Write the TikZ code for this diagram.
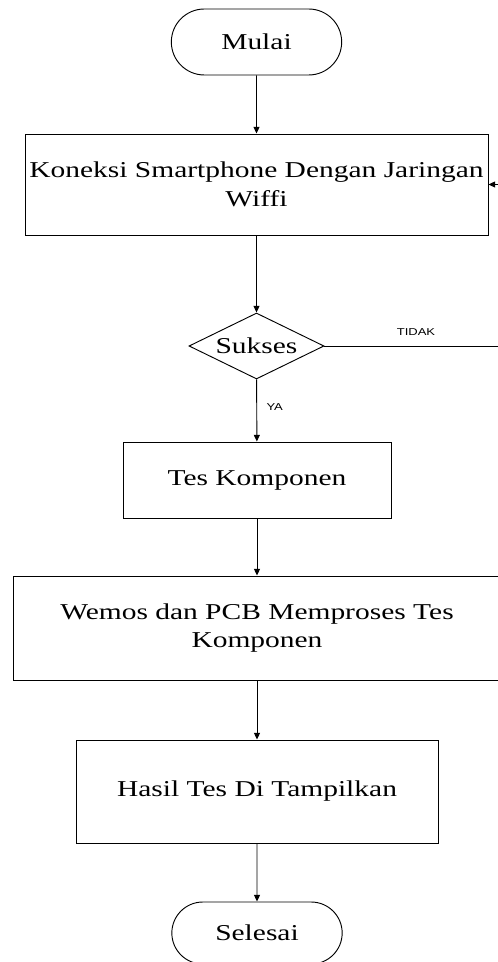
\documentclass[tikz,border=0pt]{standalone}
\usepackage{fontspec}
\setmainfont[FakeStretch=1.3]{Liberation Serif}
\newfontfamily\labelfont[FakeStretch=1.3]{Liberation Sans}
\usepackage{tikz}
\usetikzlibrary{shapes.geometric, shapes.misc, arrows.meta}
\tikzstyle{terminal} = [rounded rectangle, minimum width=129.75pt, minimum height=49.5pt, inner sep=1pt, text centered, draw=black, fill=white]
\tikzstyle{process}  = [rectangle, inner sep=2pt, align=center, draw=black, fill=white]
\tikzstyle{decision} = [diamond, aspect=2, minimum width=101.25pt, minimum height=49.5pt, inner sep=0pt, text centered, draw=black, fill=white]
\tikzstyle{keterangan} = [font=\labelfont\fontsize{7.5}{9}\selectfont, inner sep=0pt]
\tikzstyle{arrow}    = [->, >={Triangle[width=4.5pt,length=5pt]}]

\begin{document}
\begin{tikzpicture}[x=0.75pt, y=-0.75pt, line width=0.7pt, font=\fontsize{17}{21.5}\selectfont]
            \useasboundingbox (0,0) rectangle (498,962);
            % 1. Mulai (terminal awal)
            \node (mulai) [terminal] at (256.5,42) {Mulai};
            % 2. Koneksi ke jaringan
            \node (koneksi) [process, minimum width=347.25pt, minimum height=75.75pt] at (256.5,184.5) {Koneksi Smartphone Dengan Jaringan\\Wiffi};
            % 3. Cek sukses (keputusan)
            \node (sukses) [decision] at (256.5,346) {Sukses};
            % 4. Tes komponen
            \node (tes) [process, minimum width=201pt, minimum height=57pt] at (257,480) {Tes Komponen};
            % 5. Proses oleh Wemos dan PCB
            \node (wemos) [process, minimum width=366pt, minimum height=78pt] at (257,628) {Wemos dan PCB Memproses Tes\\Komponen};
            % 6. Tampilkan hasil
            \node (hasil) [process, minimum width=271.5pt, minimum height=77.25pt] at (257,791.5) {Hasil Tes Di Tampilkan};
            % 7. Selesai (terminal akhir)
            \node (selesai) [terminal, minimum height=46.5pt] at (257,933) {Selesai};
            % titik balik di tepi kanan
            \coordinate (balik) at (503,346);

            % alur utama
            \draw [arrow] (mulai) -- (koneksi);
            \draw [arrow] (koneksi) -- (sukses);
            \draw [arrow] (sukses) -- (tes) node[keterangan, pos=0.45, right=7pt] {YA};
            \draw [arrow] (tes) -- (wemos);
            \draw [arrow] (wemos) -- (hasil);
            \draw [arrow] (hasil) -- (selesai);

            % gagal -> kembali ke koneksi
            \draw [arrow] (sukses.east) -- (balik) |- (koneksi.east);
            \node (tidak) [keterangan] at (416,332) {TIDAK};

        \end{tikzpicture}
\end{document}
